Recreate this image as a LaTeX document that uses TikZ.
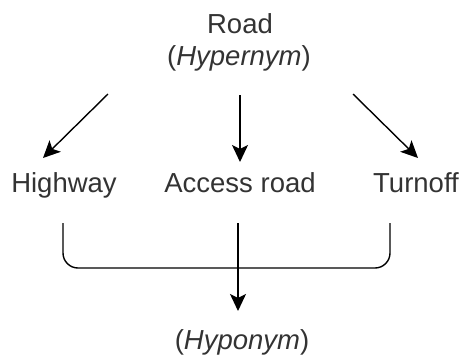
\documentclass[tikz,border=0pt]{standalone}
\usepackage{fontspec}
\setmainfont{Liberation Sans}
\usetikzlibrary{arrows.meta}
\definecolor{txt}{HTML}{333333}
\begin{document}
\begin{tikzpicture}[x=1pt,y=-1pt,
  lbl/.style={anchor=base,inner sep=0pt,text=txt,font=\fontsize{27.5}{33}\selectfont},
  conn/.style={line width=1.4pt,-{Stealth[length=17pt,width=16pt,inset=4pt]}},
  plain/.style={line width=1.4pt,rounded corners=15pt}]
\useasboundingbox (0,0) rectangle (465,362);
\node[lbl] (road) at (240,33) {Road};
\node[lbl] (hyper) at (239,65) {(\textit{Hypernym})};
\node[lbl] (highway) at (64,192) {Highway};
\node[lbl] (access) at (240,192) {Access road};
\node[lbl] (turnoff) at (416,192) {Turnoff};
\node[lbl] (hypo) at (242,349) {(\textit{Hyponym})};
\coordinate (l0) at (108,94);
\coordinate (l1) at (43,158);
\coordinate (m0) at (240,95);
\coordinate (m1) at (240,162);
\coordinate (r0) at (353,94);
\coordinate (r1) at (418,158);
\coordinate (bl) at (63,223);
\coordinate (br) at (390,223);
\coordinate (b0) at (238,223);
\coordinate (b1) at (238,311);
\draw[conn] (l0) -- (l1);
\draw[conn] (m0) -- (m1);
\draw[conn] (r0) -- (r1);
\draw[plain] (bl) |- (238,268) -| (br);
\draw[conn] (b0) -- (b1);
\end{tikzpicture}
\end{document}
